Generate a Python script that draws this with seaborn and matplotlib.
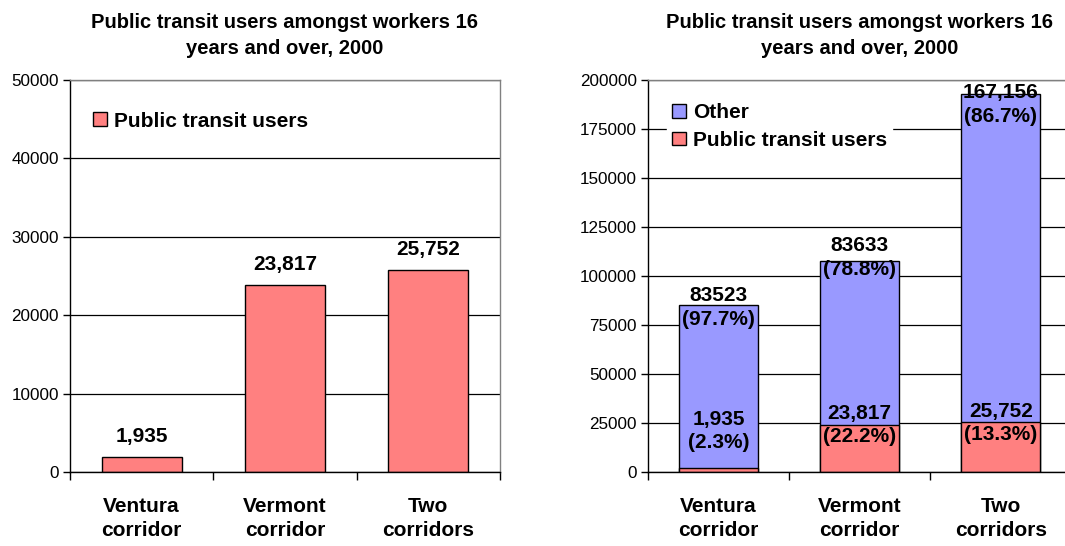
import numpy as np
import pandas as pd
import seaborn as sns
import matplotlib.pyplot as plt
from matplotlib.patches import Patch

# Data
corridors = ["Ventura\ncorridor", "Vermont\ncorridor", "Two\ncorridors"]
transit_users = [1935, 23817, 25752]
other_users = [83523, 83633, 167156]
transit_pct = [2.3, 22.2, 13.3]
other_pct = [97.7, 78.8, 86.7]
other_text = ["83523", "83633", "167,156"]
title = "Public transit users amongst workers 16\nyears and over, 2000"

pink = "#FF8080"
blue = "#9999FF"

sns.set_theme(style="white")
plt.rcParams['font.family'] = ['Liberation Sans', 'DejaVu Sans']
plt.rcParams['text.color'] = 'black'
plt.rcParams['xtick.color'] = 'black'
plt.rcParams['ytick.color'] = 'black'
plt.rcParams['axes.titlecolor'] = 'black'

df = pd.DataFrame({"corridor": corridors, "transit": transit_users, "other": other_users})
df["total"] = df["transit"] + df["other"]

fig = plt.figure(figsize=(10.65, 5.46), dpi=100)
ax1 = fig.add_axes([0.0657, 0.1355, 0.4038, 0.718])
ax2 = fig.add_axes([0.6085, 0.1355, 0.3975, 0.718])


def style_axis(ax, ymax, step):
    ax.set_xlim(-0.5, 2.5)
    ax.set_ylim(0, ymax)
    ticks = np.arange(0, ymax + 1, step)
    ax.set_yticks(ticks)
    ax.set_yticklabels([str(int(v)) for v in ticks], fontsize=12.3)
    ax.yaxis.grid(True, color="black", linewidth=0.9)
    ax.set_axisbelow(True)
    ax.set_xticks([0, 1, 2])
    ax.set_xticklabels(corridors, fontsize=15, fontweight="bold", linespacing=1.3)
    ax.set_xticks([-0.5, 0.5, 1.5, 2.5], minor=True)
    ax.tick_params(axis="x", which="major", length=0, pad=18)
    ax.tick_params(axis="x", which="minor", length=6, width=1, color="black", bottom=True)
    ax.tick_params(axis="y", length=5, width=1, color="black", left=True, pad=3)
    for side in ["left", "bottom"]:
        ax.spines[side].set_color("black")
        ax.spines[side].set_linewidth(1)
    for side in ["top", "right"]:
        ax.spines[side].set_color("#808080")
        ax.spines[side].set_linewidth(1)
    ax.set_xlabel("")
    ax.set_ylabel("")
    ax.set_title(title, fontsize=14.5, fontweight="bold", pad=19, linespacing=1.45)


# Left panel
sns.barplot(data=df, x="corridor", y="transit", color=pink, saturation=1,
            width=0.56, edgecolor="black", linewidth=1, ax=ax1)
style_axis(ax1, 50000, 10000)
for i, v in enumerate(transit_users):
    ax1.text(i, v + 1400, f"{v:,}", ha="center", va="bottom", fontsize=15, fontweight="bold")
ax1.legend(handles=[Patch(facecolor=pink, edgecolor="black", label="Public transit users")],
           loc="center left", bbox_to_anchor=(0.03, 0.895), frameon=False,
           prop={"size": 15, "weight": "bold"}, handlelength=0.65, handleheight=0.65,
           handletextpad=0.35, borderpad=0)

# Right panel (stacked)
sns.barplot(data=df, x="corridor", y="total", color=blue, saturation=1,
            width=0.56, edgecolor="black", linewidth=1, ax=ax2)
sns.barplot(data=df, x="corridor", y="transit", color=pink, saturation=1,
            width=0.56, edgecolor="black", linewidth=1, ax=ax2)
style_axis(ax2, 200000, 25000)
other_label_y = [84000, 109400, 187500]
transit_label_y = [21000, 24000, 25000]
for i in range(3):
    ax2.text(i, other_label_y[i], f"{other_text[i]}\n({other_pct[i]}%)",
             ha="center", va="center", fontsize=15, fontweight="bold", linespacing=1.3)
    ax2.text(i, transit_label_y[i], f"{transit_users[i]:,}\n({transit_pct[i]}%)",
             ha="center", va="center", fontsize=15, fontweight="bold", linespacing=1.3)
leg = ax2.legend(handles=[Patch(facecolor=blue, edgecolor="black", label="Other"),
                          Patch(facecolor=pink, edgecolor="black", label="Public transit users")],
                 loc="upper left", bbox_to_anchor=(0.02, 0.98), frameon=True,
                 prop={"size": 15, "weight": "bold"}, handlelength=0.65, handleheight=0.65,
                 handletextpad=0.35, labelspacing=0.4, borderpad=0.25)
leg.get_frame().set_facecolor("white")
leg.get_frame().set_edgecolor("white")
leg.get_frame().set_alpha(1)

fig.savefig("out.png", dpi=100)
